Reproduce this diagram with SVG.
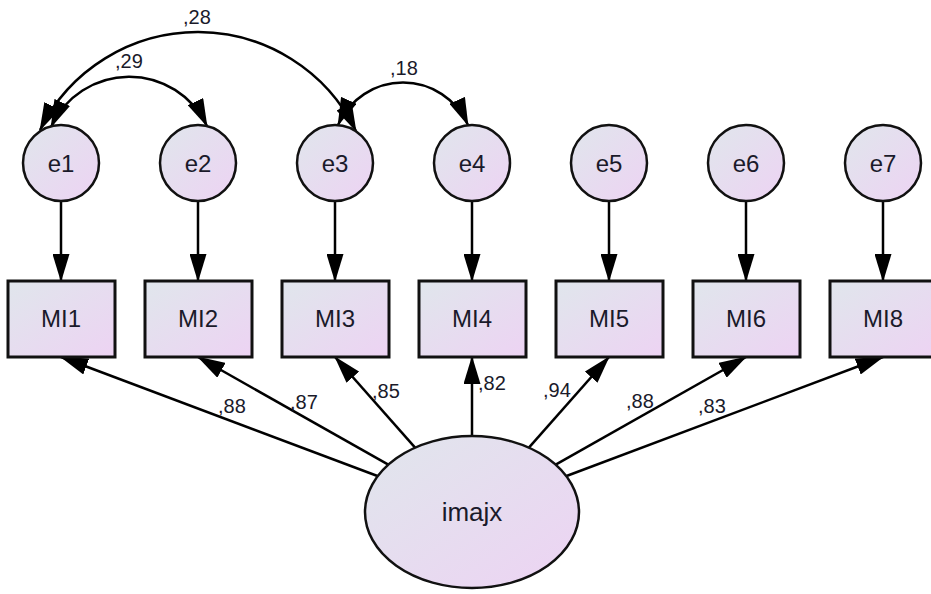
<svg xmlns="http://www.w3.org/2000/svg" width="931" height="594" viewBox="0 0 931 594">
<defs>
<linearGradient id="g" x1="0" y1="0" x2="1" y2="1">
<stop offset="0" stop-color="#e0e6ec"/>
<stop offset="1" stop-color="#edd3f3"/>
</linearGradient>
<marker id="ah" viewBox="0 0 28 17" refX="27" refY="8.5" markerWidth="28" markerHeight="17" markerUnits="userSpaceOnUse" orient="auto-start-reverse">
<path d="M0,0 L28,8.5 L0,17 Z" fill="#000"/>
</marker>
<style>
.n{fill:url(#g);stroke:#111;stroke-width:2.5}
.r{fill:url(#g);stroke:#111;stroke-width:3}
.t{font-family:"Liberation Sans",Arial,sans-serif;font-size:24px;fill:#1a1a2a;text-anchor:middle}
.l{font-family:"Liberation Sans",Arial,sans-serif;font-size:20px;fill:#1a1a2a}
.c{fill:none;stroke:#000;stroke-width:2.5}
.a{marker-end:url(#ah)}
.b{marker-start:url(#ah);marker-end:url(#ah)}
</style>
</defs>
<g id="connectors" class="c">
<line class="a" x1="61" y1="201" x2="61" y2="281"/>
<line class="a" x1="198" y1="201" x2="198" y2="281"/>
<line class="a" x1="335" y1="201" x2="335" y2="281"/>
<line class="a" x1="472" y1="201" x2="472" y2="281"/>
<line class="a" x1="609" y1="201" x2="609" y2="281"/>
<line class="a" x1="746" y1="201" x2="746" y2="281"/>
<line class="a" x1="883" y1="201" x2="883" y2="281"/>
<line class="a" x1="377.5" y1="476" x2="61" y2="357"/>
<line class="a" x1="388.3" y1="464.7" x2="198" y2="357"/>
<line class="a" x1="415.1" y1="447.6" x2="335" y2="357"/>
<line class="a" x1="472" y1="436" x2="472" y2="357"/>
<line class="a" x1="528.9" y1="447.6" x2="609" y2="357"/>
<line class="a" x1="555.7" y1="464.7" x2="746" y2="357"/>
<line class="a" x1="566.5" y1="476" x2="883" y2="357"/>
<path class="b" d="M40,130 A176,176 0 0 1 356,131"/>
<path class="b" d="M51,127 A86,86 0 0 1 207,126"/>
<path class="b" d="M338,125 A71,71 0 0 1 468,125"/>
</g>
<g id="labels" class="l">
<text x="183" y="24">,28</text>
<text x="115" y="68">,29</text>
<text x="390" y="75">,18</text>
<text x="218" y="413">,88</text>
<text x="290" y="409">,87</text>
<text x="372" y="398">,85</text>
<text x="478" y="390">,82</text>
<text x="543" y="397">,94</text>
<text x="626" y="408">,88</text>
<text x="698" y="413">,83</text>
</g>
<g id="e1"><circle class="n" cx="61" cy="163" r="38"/><text class="t" x="61" y="172">e1</text></g>
<g id="e2"><circle class="n" cx="198" cy="163" r="38"/><text class="t" x="198" y="172">e2</text></g>
<g id="e3"><circle class="n" cx="335" cy="163" r="38"/><text class="t" x="335" y="172">e3</text></g>
<g id="e4"><circle class="n" cx="472" cy="163" r="38"/><text class="t" x="472" y="172">e4</text></g>
<g id="e5"><circle class="n" cx="609" cy="163" r="38"/><text class="t" x="609" y="172">e5</text></g>
<g id="e6"><circle class="n" cx="746" cy="163" r="38"/><text class="t" x="746" y="172">e6</text></g>
<g id="e7"><circle class="n" cx="883" cy="163" r="38"/><text class="t" x="883" y="172">e7</text></g>
<g id="MI1"><rect class="r" x="8" y="281" width="107" height="76"/><text class="t" x="61" y="327">MI1</text></g>
<g id="MI2"><rect class="r" x="145" y="281" width="107" height="76"/><text class="t" x="198" y="327">MI2</text></g>
<g id="MI3"><rect class="r" x="282" y="281" width="107" height="76"/><text class="t" x="335" y="327">MI3</text></g>
<g id="MI4"><rect class="r" x="419" y="281" width="107" height="76"/><text class="t" x="472" y="327">MI4</text></g>
<g id="MI5"><rect class="r" x="556" y="281" width="107" height="76"/><text class="t" x="609" y="327">MI5</text></g>
<g id="MI6"><rect class="r" x="693" y="281" width="107" height="76"/><text class="t" x="746" y="327">MI6</text></g>
<g id="MI8"><rect class="r" x="830" y="281" width="107" height="76"/><text class="t" x="883" y="327">MI8</text></g>
<g id="imajx"><ellipse class="n" cx="472" cy="512" rx="107" ry="76"/><text class="t" x="472" y="521" style="font-size:26px">imajx</text></g>
</svg>
